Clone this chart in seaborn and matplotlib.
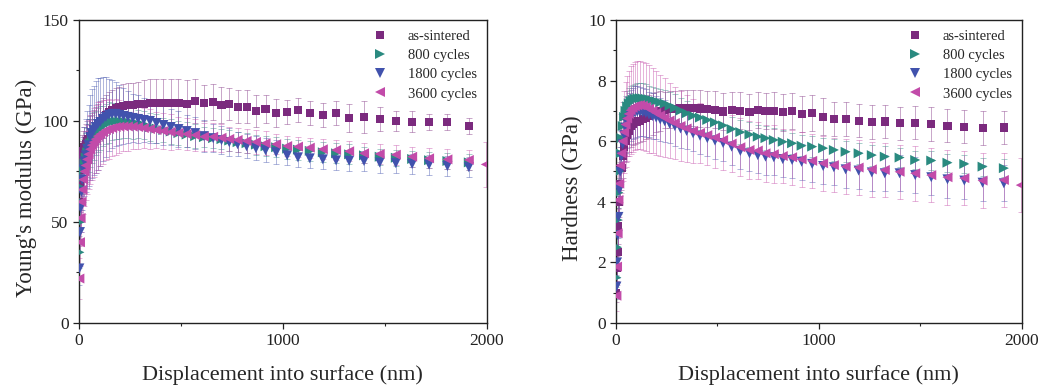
import matplotlib
matplotlib.use("Agg")
import matplotlib.pyplot as plt
import pandas as pd
import seaborn as sns
from matplotlib.ticker import MultipleLocator

# depth grid (nm); 3600 cycles has one extra point
depth_nm = [2, 5, 8, 12, 16, 21, 27, 33, 40, 47, 55, 63, 72, 82, 93, 105, 118, 132, 147, 163,
            180, 198, 218, 240, 264, 290, 318, 348, 380, 414, 450, 488, 528, 570, 613, 658, 699, 737, 778, 822,
            868, 915, 967, 1021, 1074, 1132, 1196, 1261, 1325, 1398, 1475, 1554, 1634, 1717, 1807, 1912]
depth_3600 = depth_nm + [1995]

# Young's modulus (GPa)
modulus_sintered = [60, 70, 76, 80, 83, 85, 87, 88.5, 90, 91, 92.5, 94, 95.5, 97, 98.5, 100, 101.5, 103, 104.5, 105.5,
                    106.5, 107, 107.5, 107.8, 108, 108.3, 108.5, 108.8, 109, 109, 108.8, 108.7, 108.5, 110, 108.8, 109.4, 107.9, 108.4, 107.1, 107.1,
                    105.1, 105.9, 104.1, 104.6, 105.3, 103.8, 103.1, 103.8, 101.3, 102.1, 100.8, 100.1, 99.7, 99.4, 99.7, 97.5]
modulus_800 = [35, 50, 60, 67, 72, 76, 79, 82, 84.5, 86.5, 89, 91, 92.5, 94, 95.5, 96.5, 97.5, 98.5, 99.3, 99.8,
               100, 100, 99.8, 99.5, 99, 98.5, 98, 97, 96.3, 95.5, 94.8, 94, 93.3, 92.5, 92, 91.5, 91, 90.3, 89.5, 89,
               88.3, 87.5, 87, 86.3, 85.8, 85.2, 84.5, 84, 83.5, 83, 82.3, 81.8, 81.2, 80.6, 80.2, 79.5]
modulus_1800 = [27, 45, 57, 65, 71, 76, 80, 83, 86, 88, 92, 94, 95.5, 97, 98.5, 99.5, 101, 102, 103, 103.5,
                103.5, 103, 102.5, 102, 101.5, 101, 100.5, 100, 99, 98, 97, 96, 95, 94, 92.5, 91.5, 90.5, 89.5, 88.5, 87.5,
                86.5, 85.5, 84.5, 83, 82, 81.5, 81, 80.5, 80.3, 80.2, 79.4, 79.1, 78.7, 78.4, 77.7, 77.1]
modulus_3600 = [22, 40, 52, 60, 66, 71, 75, 78, 81, 83.5, 86, 88, 89.5, 91, 92.5, 93.5, 94.5, 95.5, 96, 96.5,
                97, 97.2, 97.3, 97.3, 97.2, 97, 96.5, 96, 95.5, 95, 94.5, 94, 93.5, 93, 92.2, 92.2, 91.7, 91.1, 90.6, 90.1,
                89.6, 89, 88.5, 87.6, 87.3, 86.8, 86, 85.6, 85, 84, 83.7, 83.3, 82.3, 81.5, 81, 80.7, 78.5]

modulus_sintered_sd = [10, 10, 10, 10, 10, 10, 10, 10, 10, 10, 10, 10, 10, 10, 10, 10, 10, 10, 10, 10,
                       10, 10, 11, 11, 11, 11, 12, 12, 12, 12, 12, 12, 12, 11, 9, 9, 9, 8, 8, 8,
                       8, 7, 7, 6, 6, 6, 6, 6, 7, 8, 6, 5, 5, 4, 4, 4]
modulus_800_sd = [8, 9, 10, 11, 12, 12, 12, 12, 12, 12, 12, 12, 12, 11, 11, 11, 10, 10, 10, 9,
                  9, 9, 8, 8, 8, 7, 7, 7, 7, 6, 6, 6, 6, 6, 5, 5, 5, 5, 5, 5,
                  5, 5, 5, 5, 5, 5, 5, 5, 5, 4, 4, 4, 4, 4, 4, 4]
modulus_1800_sd = [8, 10, 12, 14, 15, 16, 17, 18, 19, 20, 21, 22, 22, 23, 23, 22, 21, 20, 18, 17,
                   16, 15, 14, 13, 12, 12, 11, 11, 10, 10, 9, 9, 8, 8, 8, 7, 7, 7, 6, 6,
                   6, 6, 6, 5, 5, 5, 5, 5, 5, 5, 5, 5, 5, 5, 5, 5]
modulus_3600_sd = [10, 12, 14, 15, 16, 17, 17, 17, 17, 17, 17, 17, 17, 17, 17, 16, 16, 15, 15, 14,
                   14, 13, 12, 12, 11, 11, 10, 10, 9, 9, 9, 8, 8, 8, 7, 7, 7, 6, 6, 6,
                   6, 6, 5, 5, 5, 5, 5, 5, 5, 5, 5, 5, 5, 5, 5, 5, 11]

# Hardness (GPa)
hardness_sintered = [1.0, 1.8, 2.35, 3.2, 4.0, 4.6, 5.1, 5.5, 5.8, 6.0, 6.2, 6.35, 6.5, 6.58, 6.62, 6.65, 6.68, 6.72, 6.76, 6.82,
                     6.9, 6.96, 7.0, 7.03, 7.05, 7.07, 7.08, 7.08, 7.09, 7.08, 7.06, 7.04, 6.98, 7.02, 7.01, 6.97, 7.03, 7.0, 7.01, 6.95,
                     7.0, 6.89, 6.92, 6.81, 6.73, 6.73, 6.68, 6.63, 6.65, 6.59, 6.61, 6.57, 6.51, 6.48, 6.43, 6.45]
hardness_800 = [1.5, 2.5, 3.4, 4.3, 5.0, 5.6, 6.1, 6.5, 6.8, 7.0, 7.15, 7.25, 7.32, 7.37, 7.4, 7.42, 7.42, 7.41, 7.4, 7.38,
                7.35, 7.32, 7.28, 7.24, 7.17, 7.1, 7.01, 6.92, 6.84, 6.78, 6.7, 6.62, 6.52, 6.4, 6.3, 6.22, 6.15, 6.1, 6.04, 5.98,
                5.93, 5.85, 5.82, 5.77, 5.71, 5.65, 5.6, 5.54, 5.49, 5.46, 5.38, 5.36, 5.29, 5.25, 5.16, 5.11]
hardness_1800 = [1.2, 2.0, 2.9, 3.5, 4.4, 5.0, 5.5, 5.9, 6.2, 6.45, 6.62, 6.75, 6.85, 6.92, 6.96, 6.98, 6.98, 6.96, 6.93, 6.88,
                 6.83, 6.78, 6.72, 6.66, 6.58, 6.5, 6.42, 6.34, 6.26, 6.18, 6.1, 6.02, 5.94, 5.82, 5.68, 5.6, 5.54, 5.49, 5.47, 5.41,
                 5.38, 5.32, 5.25, 5.18, 5.14, 5.07, 5.03, 4.97, 4.94, 4.94, 4.88, 4.81, 4.74, 4.7, 4.63, 4.61]
hardness_3600 = [0.9, 1.86, 2.96, 4.06, 4.6, 5.2, 5.6, 6.0, 6.3, 6.55, 6.75, 6.9, 7.02, 7.1, 7.15, 7.18, 7.19, 7.17, 7.13, 7.07,
                 7.0, 6.93, 6.85, 6.77, 6.68, 6.6, 6.5, 6.42, 6.34, 6.27, 6.2, 6.12, 6.04, 5.92, 5.8, 5.71, 5.69, 5.6, 5.57, 5.51,
                 5.47, 5.4, 5.35, 5.27, 5.21, 5.16, 5.13, 5.07, 5.05, 4.99, 4.94, 4.88, 4.81, 4.78, 4.7, 4.72, 4.55]

hardness_sintered_sd = [0.3, 0.4, 0.5, 0.6, 0.6, 0.7, 0.7, 0.7, 0.7, 0.7, 0.7, 0.7, 0.7, 0.7, 0.7, 0.7, 0.7, 0.7, 0.7, 0.7,
                        0.7, 0.65, 0.65, 0.6, 0.6, 0.6, 0.6, 0.6, 0.6, 0.6, 0.6, 0.6, 0.6, 0.6, 0.6, 0.6, 0.6, 0.6, 0.6, 0.6,
                        0.6, 0.6, 0.6, 0.6, 0.55, 0.55, 0.55, 0.55, 0.55, 0.55, 0.55, 0.55, 0.55, 0.55, 0.55, 0.55]
hardness_800_sd = [0.3, 0.4, 0.5, 0.5, 0.5, 0.5, 0.5, 0.5, 0.5, 0.5, 0.5, 0.5, 0.5, 0.5, 0.5, 0.5, 0.5, 0.5, 0.5, 0.45,
                   0.45, 0.45, 0.45, 0.45, 0.45, 0.45, 0.4, 0.4, 0.4, 0.4, 0.4, 0.4, 0.4, 0.4, 0.4, 0.4, 0.4, 0.4, 0.4, 0.4,
                   0.35, 0.35, 0.35, 0.35, 0.35, 0.35, 0.35, 0.35, 0.35, 0.3, 0.3, 0.3, 0.3, 0.3, 0.3, 0.3]
hardness_1800_sd = [0.4, 0.5, 0.6, 0.7, 0.8, 0.8, 0.85, 0.85, 0.85, 0.85, 0.85, 0.85, 0.85, 0.85, 0.85, 0.85, 0.8, 0.8, 0.8, 0.75,
                    0.75, 0.7, 0.7, 0.7, 0.65, 0.65, 0.65, 0.6, 0.6, 0.6, 0.6, 0.6, 0.6, 0.6, 0.6, 0.6, 0.6, 0.6, 0.6, 0.6,
                    0.6, 0.6, 0.6, 0.6, 0.6, 0.6, 0.6, 0.6, 0.6, 0.6, 0.6, 0.6, 0.6, 0.6, 0.6, 0.6]
hardness_3600_sd = [0.5, 0.6, 0.8, 1.0, 1.1, 1.2, 1.3, 1.3, 1.35, 1.4, 1.4, 1.4, 1.45, 1.45, 1.45, 1.45, 1.45, 1.45, 1.45, 1.45,
                    1.4, 1.4, 1.35, 1.3, 1.25, 1.2, 1.15, 1.1, 1.05, 1.0, 1.0, 1.0, 1.0, 0.95, 0.95, 0.95, 0.95, 0.95, 0.95, 0.9,
                    0.9, 0.9, 0.9, 0.9, 0.9, 0.9, 0.9, 0.9, 0.9, 0.9, 0.9, 0.9, 0.9, 0.9, 0.9, 0.9, 0.9]

groups = ["as-sintered", "800 cycles", "1800 cycles", "3600 cycles"]
palette = {"as-sintered": "#7b2a7e", "800 cycles": "#2a8a80",
           "1800 cycles": "#4152ad", "3600 cycles": "#c24ba9"}
markers = {"as-sintered": "s", "800 cycles": ">", "1800 cycles": "v", "3600 cycles": "<"}
# triangles look smaller than squares at the same area, so bump them up
marker_area = {"as-sintered": 34, "800 cycles": 52, "1800 cycles": 52, "3600 cycles": 52}


def long_frame(values, errors):
    parts = []
    for g, v, e in zip(groups, values, errors):
        x = depth_3600 if g == "3600 cycles" else depth_nm
        parts.append(pd.DataFrame({"depth": x, "value": v, "err": e, "group": g}))
    return pd.concat(parts, ignore_index=True)


df_mod = long_frame([modulus_sintered, modulus_800, modulus_1800, modulus_3600],
                    [modulus_sintered_sd, modulus_800_sd, modulus_1800_sd, modulus_3600_sd])
df_hard = long_frame([hardness_sintered, hardness_800, hardness_1800, hardness_3600],
                     [hardness_sintered_sd, hardness_800_sd, hardness_1800_sd, hardness_3600_sd])

sns.set_style("ticks")
plt.rcParams["font.family"] = ["Liberation Serif", "DejaVu Serif"]
plt.rcParams["xtick.direction"] = "out"
plt.rcParams["ytick.direction"] = "out"

fig = plt.figure(figsize=(10.43, 3.87), dpi=100)
ax1 = fig.add_axes([0.0757, 0.1654, 0.391, 0.783])
ax2 = fig.add_axes([0.5906, 0.1654, 0.389, 0.783])


def draw_panel(ax, df, ymax, ymajor, yminor, ylabel):
    # error bars first, light, under the markers
    for g in groups:
        sub = df[df["group"] == g]
        ax.errorbar(sub["depth"], sub["value"], yerr=sub["err"], fmt="none",
                    ecolor=palette[g], alpha=0.42, elinewidth=0.7, capsize=2.5,
                    capthick=0.7, zorder=1)
    sns.scatterplot(data=df, x="depth", y="value", hue="group", style="group",
                    size="group", sizes=marker_area,
                    hue_order=groups, style_order=groups, size_order=groups,
                    palette=palette, markers=markers, linewidth=0, ax=ax, zorder=3)
    handles, labels = ax.get_legend_handles_labels()
    ax.legend(handles, labels, loc="upper right", frameon=False, fontsize=10.5,
              handletextpad=0.9, labelspacing=0.4, borderaxespad=0.3)
    ax.set_xlim(0, 2000)
    ax.set_ylim(0, ymax)
    ax.xaxis.set_major_locator(MultipleLocator(1000))
    ax.xaxis.set_minor_locator(MultipleLocator(500))
    ax.yaxis.set_major_locator(MultipleLocator(ymajor))
    ax.yaxis.set_minor_locator(MultipleLocator(yminor))
    ax.tick_params(which="major", length=4, width=0.9, labelsize=12.5, colors="#222222")
    ax.tick_params(which="minor", length=2.5, width=0.8)
    for sp in ax.spines.values():
        sp.set_visible(True)
        sp.set_linewidth(1.0)
        sp.set_color("#222222")
    ax.set_xlabel("Displacement into surface (nm)", fontsize=16, labelpad=11)
    ax.set_ylabel(ylabel, fontsize=16.5, labelpad=4)
    ax.yaxis.label.set_y(0.445)


draw_panel(ax1, df_mod, 150, 50, 25, "Young's modulus (GPa)")
draw_panel(ax2, df_hard, 10, 2, 1, "Hardness (GPa)")

fig.savefig("out.png", dpi=100)
